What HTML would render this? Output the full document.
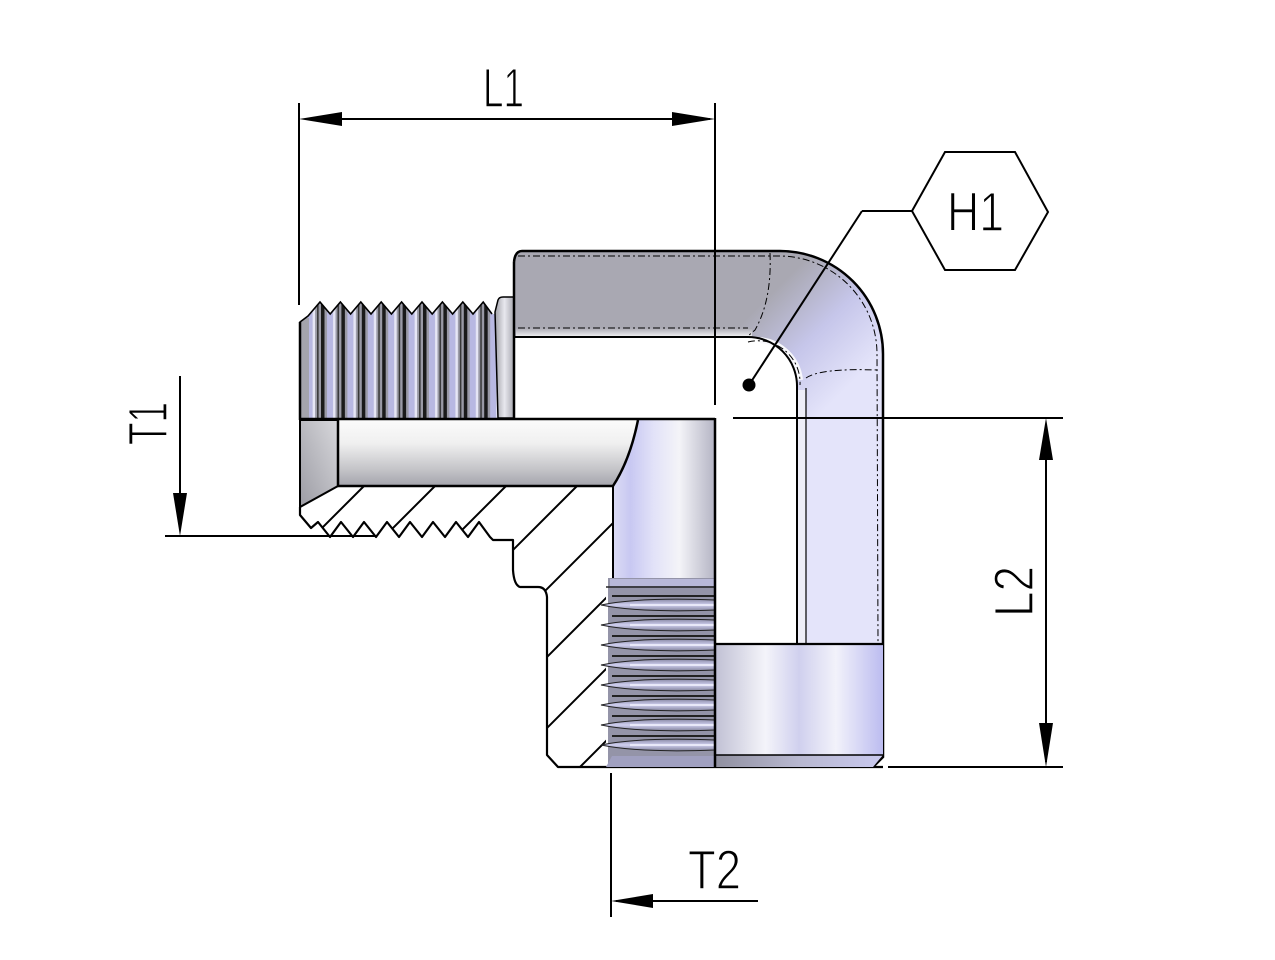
<!DOCTYPE html>
<html><head><meta charset="utf-8"><style>
html,body{margin:0;padding:0;background:#fff;width:1275px;height:960px;overflow:hidden;}
svg{display:block;}
text{font-family:"Liberation Sans",sans-serif;fill:#000;}
</style></head><body>
<svg width="1275" height="960" viewBox="0 0 1275 960" xmlns="http://www.w3.org/2000/svg">
<defs>
  <linearGradient id="bend" gradientUnits="userSpaceOnUse" x1="765" y1="300" x2="850" y2="385">
    <stop offset="0" stop-color="#a9a8b2"/>
    <stop offset="0.5" stop-color="#c6c6ea"/>
    <stop offset="1" stop-color="#e4e4fa"/>
  </linearGradient>
  <linearGradient id="pipeBot" x1="0" y1="0" x2="0" y2="1">
    <stop offset="0" stop-color="#a9a8b2"/>
    <stop offset="1" stop-color="#f4f4f6"/>
  </linearGradient>
  <linearGradient id="relief" x1="0" y1="0" x2="1" y2="0">
    <stop offset="0" stop-color="#a0a0a8"/>
    <stop offset="0.5" stop-color="#e8e8ee"/>
    <stop offset="1" stop-color="#a8a8b0"/>
  </linearGradient>
  <linearGradient id="cham" x1="1" y1="0" x2="0" y2="1">
    <stop offset="0" stop-color="#d8d8dc"/>
    <stop offset="1" stop-color="#9c9ca4"/>
  </linearGradient>
  <linearGradient id="hbore" x1="0" y1="0" x2="0" y2="1">
    <stop offset="0" stop-color="#fbfbfb"/>
    <stop offset="0.35" stop-color="#f0f0f0"/>
    <stop offset="0.75" stop-color="#c4c4c8"/>
    <stop offset="1" stop-color="#a4a4ac"/>
  </linearGradient>
  <linearGradient id="vbore" gradientUnits="userSpaceOnUse" x1="613" y1="0" x2="715" y2="0">
    <stop offset="0" stop-color="#dcdcf4"/>
    <stop offset="0.17" stop-color="#c8c8f2"/>
    <stop offset="0.4" stop-color="#e2e2f8"/>
    <stop offset="0.65" stop-color="#f4f4f8"/>
    <stop offset="1" stop-color="#b4b4c4"/>
  </linearGradient>
  <linearGradient id="ring" x1="0" y1="0" x2="1" y2="0">
    <stop offset="0" stop-color="#c0c0d4"/>
    <stop offset="0.3" stop-color="#f4f4fa"/>
    <stop offset="0.5" stop-color="#d0d0ee"/>
    <stop offset="0.72" stop-color="#f2f2fa"/>
    <stop offset="1" stop-color="#bcbcf0"/>
  </linearGradient>
  <linearGradient id="ringCh" x1="0" y1="0" x2="1" y2="0">
    <stop offset="0" stop-color="#9090a0"/>
    <stop offset="0.5" stop-color="#b8b8d0"/>
    <stop offset="1" stop-color="#c8c8ee"/>
  </linearGradient>
  <linearGradient id="tooth" x1="0" y1="0" x2="0" y2="1">
    <stop offset="0" stop-color="#8a8aa6"/>
    <stop offset="0.5" stop-color="#d0d0f0"/>
    <stop offset="1" stop-color="#84849c"/>
  </linearGradient>
  <pattern id="ext" patternUnits="userSpaceOnUse" x="321" y="0" width="20.4" height="960">
    <rect x="0" y="0" width="20.4" height="960" fill="#9a9aa6"/>
    <rect x="0" y="0" width="3.5" height="960" fill="#1a1a1a"/>
    <rect x="6" y="0" width="6" height="960" fill="#b8b8e2"/>
    <rect x="12" y="0" width="2.5" height="960" fill="#e6e6f6"/>
    <rect x="16.5" y="0" width="1.5" height="960" fill="#333"/>
  </pattern>
  <clipPath id="secClip">
    <path d="M300,507 L338,486 L613,486 L613,578 L606,578 L606,767 L558,767 L547,755 L547,597 Q546,587 538,587 L520,587 Q514,585 513,570 L513,540 L493,540 L490,537 L483,537 L479,522 L468,537 L456,522 L445,537 L433,522 L422,537 L410,522 L399,537 L387,522 L376,537 L364,522 L353,537 L341,522 L330,537 L318,522 L311,528 L300,515 Z"/>
  </clipPath>
  <clipPath id="extClip">
    <path d="M300,418 L300,322 L308,316 L320,302 L330.2,314 L340.4,302 L350.6,314 L360.8,302 L371,314 L381.2,302 L391.4,314 L401.6,302 L411.8,314 L422,302 L432.2,314 L442.4,302 L452.6,314 L462.8,302 L473,314 L483.2,302 L492,314 L498,314 L498,418 Z"/>
  </clipPath>
</defs>

<!-- ===== external thread block ===== -->
<rect x="300" y="300" width="198" height="120" fill="url(#ext)" clip-path="url(#extClip)"/>
<rect x="300" y="318" width="9" height="100" fill="#a4a4ac" clip-path="url(#extClip)"/>
<path d="M300,418 L300,322 L308,316 L320,302 L330.2,314 L340.4,302 L350.6,314 L360.8,302 L371,314 L381.2,302 L391.4,314 L401.6,302 L411.8,314 L422,302 L432.2,314 L442.4,302 L452.6,314 L462.8,302 L473,314 L483.2,302 L492,314" fill="none" stroke="#000" stroke-width="1.6"/>
<line x1="300" y1="322" x2="300" y2="420" stroke="#000" stroke-width="2.5"/>
<path d="M495,312 L498,300 Q499,297 503,297 L514,297 L514,418 L498,418 Z" fill="url(#relief)" stroke="#000" stroke-width="1.5"/>

<!-- ===== elbow ===== -->
<path d="M514,262 Q515,251 522,251 L780,251 A103,103 0 0 1 883,354 L883,420 L797,420 L797,386 A49,49 0 0 0 748,337 L514,337 Z" fill="url(#bend)"/>
<rect x="516" y="328" width="236" height="9" fill="url(#pipeBot)"/>
<rect x="806" y="418" width="77" height="228" fill="#e4e4fa"/>
<rect x="797" y="390" width="9" height="256" fill="#eeeef8"/>
<path d="M800,380 A45,45 0 0 0 760,340" fill="none" stroke="#f8f8fc" stroke-width="6"/>
<path d="M514,262 Q515,251 522,251 L780,251 A103,103 0 0 1 883,354 L883,757 L873,767" fill="none" stroke="#000" stroke-width="2.5"/>
<path d="M514,337 L748,337 A49,49 0 0 1 797,386 L797,644" fill="none" stroke="#000" stroke-width="2"/>
<line x1="806" y1="388" x2="806" y2="644" stroke="#000" stroke-width="1.2"/>
<line x1="514" y1="262" x2="514" y2="420" stroke="#000" stroke-width="2.5"/>
<g fill="none" stroke="#000" stroke-width="1" stroke-dasharray="7,3,2,3">
  <path d="M518,256 L778,256 A98,98 0 0 1 877,354 L878,642"/>
  <path d="M518,328 L748,328"/>
  <path d="M770,253 Q772,300 755,330 L748,336"/>
  <path d="M748,342 A42,42 0 0 1 800,385"/>
  <path d="M806,378 Q820,368 878,370"/>
</g>

<!-- ===== section: bores ===== -->
<path d="M300,420 L338,420 L338,486 L300,507 Z" fill="url(#cham)" stroke="#000" stroke-width="2"/>
<path d="M338,420 L638,420 Q630,460 613,486 L338,486 Z" fill="url(#hbore)"/>
<path d="M638,420 Q630,460 613,486 L613,580 L715,580 L715,420 Z" fill="url(#vbore)"/>
<path d="M338,420 L338,486 L613,486 Q630,460 638,420" fill="none" stroke="#000" stroke-width="2.5"/>
<line x1="613" y1="486" x2="613" y2="580" stroke="#000" stroke-width="2"/>

<!-- hatching -->
<g clip-path="url(#secClip)" stroke="#000" stroke-width="2">
  <line x1="300" y1="550" x2="364" y2="486"/>
  <line x1="300" y1="621" x2="435" y2="486"/>
  <line x1="300" y1="692" x2="506" y2="486"/>
  <line x1="300" y1="763" x2="577" y2="486"/>
  <line x1="369" y1="767" x2="620" y2="516"/>
  <line x1="437" y1="767" x2="620" y2="584"/>
  <line x1="508" y1="767" x2="620" y2="655"/>
  <line x1="580" y1="767" x2="620" y2="727"/>
</g>
<path d="M300,507 L300,515 L311,528 L318,522 L330,537 L341,522 L353,537 L364,522 L376,537 L387,522 L399,537 L410,522 L422,537 L433,522 L445,537 L456,522 L468,537 L479,522 L490,537 L493,540 L513,540 L513,570 Q514,585 520,587 L538,587 Q546,587 547,597 L547,755 L558,767 L883,767" fill="none" stroke="#000" stroke-width="2.2" stroke-linejoin="round"/>

<!-- ===== internal thread ===== -->
<rect x="608" y="578" width="107" height="189" fill="#9494a8"/>
<rect x="610" y="579" width="105" height="7" fill="#b8b8d8"/>
<line x1="606" y1="587" x2="715" y2="587" stroke="#222" stroke-width="1.5"/>
<g stroke="#222" stroke-width="1">
  <g><line x1="612" y1="596" x2="715" y2="596" stroke-width="2"/><path d="M601,605 Q640,597 715,600 L715,610 Q640,613 601,605 Z" fill="url(#tooth)"/><line x1="630" y1="605" x2="715" y2="605" stroke="#f4f4ff" stroke-width="1.5"/></g>
  <g><line x1="612" y1="616" x2="715" y2="616" stroke-width="2"/><path d="M601,625 Q640,617 715,620 L715,630 Q640,633 601,625 Z" fill="url(#tooth)"/><line x1="630" y1="625" x2="715" y2="625" stroke="#f4f4ff" stroke-width="1.5"/></g>
  <g><line x1="612" y1="636" x2="715" y2="636" stroke-width="2"/><path d="M601,645 Q640,637 715,640 L715,650 Q640,653 601,645 Z" fill="url(#tooth)"/><line x1="630" y1="645" x2="715" y2="645" stroke="#f4f4ff" stroke-width="1.5"/></g>
  <g><line x1="612" y1="656" x2="715" y2="656" stroke-width="2"/><path d="M601,665 Q640,657 715,660 L715,670 Q640,673 601,665 Z" fill="url(#tooth)"/><line x1="630" y1="665" x2="715" y2="665" stroke="#f4f4ff" stroke-width="1.5"/></g>
  <g><line x1="612" y1="676" x2="715" y2="676" stroke-width="2"/><path d="M601,685 Q640,677 715,680 L715,690 Q640,693 601,685 Z" fill="url(#tooth)"/><line x1="630" y1="685" x2="715" y2="685" stroke="#f4f4ff" stroke-width="1.5"/></g>
  <g><line x1="612" y1="696" x2="715" y2="696" stroke-width="2"/><path d="M601,705 Q640,697 715,700 L715,710 Q640,713 601,705 Z" fill="url(#tooth)"/><line x1="630" y1="705" x2="715" y2="705" stroke="#f4f4ff" stroke-width="1.5"/></g>
  <g><line x1="612" y1="716" x2="715" y2="716" stroke-width="2"/><path d="M601,725 Q640,717 715,720 L715,730 Q640,733 601,725 Z" fill="url(#tooth)"/><line x1="630" y1="725" x2="715" y2="725" stroke="#f4f4ff" stroke-width="1.5"/></g>
  <g><line x1="612" y1="736" x2="715" y2="736" stroke-width="2"/><path d="M601,745 Q640,737 715,740 L715,750 Q640,753 601,745 Z" fill="url(#tooth)"/><line x1="630" y1="745" x2="715" y2="745" stroke="#f4f4ff" stroke-width="1.5"/></g>
</g>
<path d="M606,767 L612,756 L715,756 L715,767 Z" fill="#a0a0c0"/>

<!-- ===== ring ===== -->
<rect x="715" y="644" width="168" height="111" fill="url(#ring)"/>
<path d="M715,755 L883,755 L873,767 L715,767 Z" fill="url(#ringCh)"/>
<line x1="715" y1="644" x2="883" y2="644" stroke="#000" stroke-width="2.2"/>
<line x1="715" y1="755" x2="883" y2="755" stroke="#000" stroke-width="1.5"/>
<line x1="715" y1="418" x2="715" y2="767" stroke="#000" stroke-width="2.5"/>

<line x1="300" y1="419" x2="715" y2="419" stroke="#000" stroke-width="2.5"/>
<line x1="733" y1="418" x2="1063" y2="418" stroke="#000" stroke-width="2"/>

<!-- ===== dimensions ===== -->
<g stroke="#000" stroke-width="2" fill="none">
  <line x1="299" y1="103" x2="299" y2="305"/>
  <line x1="715" y1="103" x2="715" y2="405"/>
  <line x1="305" y1="119" x2="710" y2="119"/>
  <line x1="180" y1="376" x2="180" y2="530"/>
  <line x1="165" y1="536" x2="376" y2="536"/>
  <line x1="1046" y1="424" x2="1046" y2="762"/>
  <line x1="888" y1="767" x2="1063" y2="767"/>
  <line x1="611" y1="773" x2="611" y2="917"/>
  <line x1="616" y1="901" x2="758" y2="901"/>
  <line x1="749" y1="385" x2="862" y2="211"/>
  <line x1="862" y1="211" x2="912" y2="211"/>
  <polygon points="912,211 945,152 1015,152 1048,212 1015,270 945,270"/>
</g>
<g fill="#000">
  <polygon points="299,119 342,112 342,126"/>
  <polygon points="715,119 672,112 672,126"/>
  <polygon points="180,536 173,493 187,493"/>
  <polygon points="1046,418 1039,460 1053,460"/>
  <polygon points="1046,767 1039,723 1053,723"/>
  <polygon points="611,901 653,894 653,908"/>
  <circle cx="749" cy="385" r="6.5"/>
</g>
<g font-size="56" stroke="#fff" stroke-width="1.4">
  <text x="483" y="107" textLength="41" lengthAdjust="spacingAndGlyphs">L1</text>
  <text x="947" y="231" textLength="57" lengthAdjust="spacingAndGlyphs">H1</text>
  <text x="688" y="889" textLength="53" lengthAdjust="spacingAndGlyphs">T2</text>
  <text transform="translate(167,445) rotate(-90)" textLength="43" lengthAdjust="spacingAndGlyphs">T1</text>
  <text transform="translate(1033,617) rotate(-90)" textLength="51" lengthAdjust="spacingAndGlyphs">L2</text>
</g>
</svg>
</body></html>
